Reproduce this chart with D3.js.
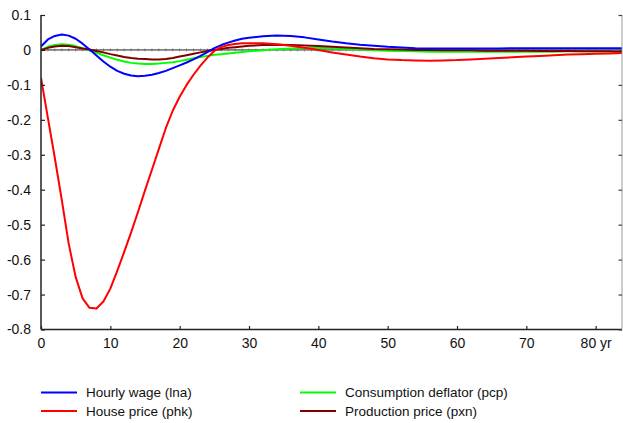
<!DOCTYPE html>
<html><head><meta charset="utf-8">
<script src="https://cdn.jsdelivr.net/npm/d3@7"></script>
<style>body{margin:0;background:#fff}svg{display:block}text{font-family:"Liberation Sans",Arial,sans-serif}</style>
</head><body><svg id="c" width="623" height="423"></svg>
<script>
const t = [0,1,2,3,4,5,6,7,8,9,10,11,12,13,14,15,16,17,18,19,20,21,22,23,24,25,26,27,28,29,30,
  32,34,36,38,40,42,44,46,48,50,52,54,56,58,60,62,64,66,68,70,72,74,76,78,80,82,84];
const lna = [0.010,0.030,0.040,0.044,0.041,0.032,0.018,0.001,-0.016,-0.033,-0.048,-0.060,-0.068,-0.073,-0.075,-0.074,-0.071,-0.066,-0.060,-0.052,-0.044,-0.036,-0.027,-0.017,-0.006,0.005,0.014,0.021,0.027,0.032,0.035,
  0.039,0.041,0.040,0.036,0.030,0.024,0.019,0.015,0.012,0.009,0.007,0.005,0.004,0.004,0.004,0.004,0.004,0.004,0.005,0.005,0.005,0.005,0.005,0.005,0.005,0.005,0.005];
const phk = [-0.080,-0.195,-0.310,-0.430,-0.555,-0.650,-0.711,-0.738,-0.740,-0.720,-0.683,-0.632,-0.578,-0.522,-0.463,-0.402,-0.343,-0.283,-0.224,-0.174,-0.134,-0.100,-0.071,-0.045,-0.022,-0.003,0.008,0.014,0.017,0.019,0.019,
  0.019,0.016,0.012,0.006,0.000,-0.007,-0.013,-0.019,-0.024,-0.027,-0.029,-0.030,-0.031,-0.030,-0.029,-0.027,-0.025,-0.023,-0.021,-0.019,-0.017,-0.015,-0.013,-0.012,-0.011,-0.010,-0.009];
const pcp = [0.000,0.009,0.014,0.016,0.015,0.011,0.005,-0.001,-0.008,-0.015,-0.022,-0.028,-0.033,-0.037,-0.039,-0.040,-0.040,-0.039,-0.037,-0.035,-0.032,-0.028,-0.024,-0.020,-0.017,-0.014,-0.012,-0.010,-0.008,-0.006,-0.004,
  -0.001,0.002,0.004,0.005,0.006,0.005,0.003,0.001,-0.001,-0.002,-0.003,-0.004,-0.005,-0.005,-0.005,-0.005,-0.005,-0.005,-0.005,-0.005,-0.005,-0.005,-0.004,-0.004,-0.004,-0.004,-0.004];
const pxn = [0.000,0.006,0.010,0.012,0.011,0.008,0.004,0.001,-0.003,-0.007,-0.012,-0.016,-0.020,-0.023,-0.025,-0.026,-0.027,-0.027,-0.026,-0.023,-0.019,-0.015,-0.011,-0.007,-0.003,0.000,0.003,0.006,0.008,0.010,0.012,
  0.014,0.015,0.014,0.013,0.011,0.009,0.007,0.005,0.003,0.002,0.001,0.000,0.000,-0.001,-0.001,-0.001,-0.002,-0.002,-0.002,-0.002,-0.003,-0.003,-0.003,-0.004,-0.004,-0.004,-0.005];
const seriesNames = ["Hourly wage (lna)","House price (phk)","Consumption deflator (pcp)","Production price (pxn)"];
const seriesColors = ["#0000ff","#ff0000","#00ff00","#800000"];
const yTicks = [0.1,0,-0.1,-0.2,-0.3,-0.4,-0.5,-0.6,-0.7,-0.8];
const xTicks = [0,10,20,30,40,50,60,70,80];
const xTickLabels = ["0","10","20","30","40","50","60","70","80 yr"];

const svg = d3.select("#c");
const x = d3.scaleLinear().domain([0,83.8]).range([41,622]);
const y = d3.scaleLinear().domain([-0.8,0.1]).range([329.5,15]);

svg.append("clipPath").attr("id","clip").append("rect")
  .attr("x",41).attr("y",0).attr("width",581).attr("height",330);

// zero line with tiny ticks
const zg = svg.append("g").attr("clip-path","url(#clip)");
zg.append("line").attr("x1",x(0)).attr("x2",x(83.8)).attr("y1",y(0)).attr("y2",y(0))
  .attr("stroke","#222").attr("stroke-width",1);
zg.selectAll(".zt").data(d3.range(1,84)).join("line")
  .attr("x1",d=>x(d)).attr("x2",d=>x(d)).attr("y1",y(0)-1.5).attr("y2",y(0)+1.5)
  .attr("stroke","#555").attr("stroke-width",0.6);

// series
const all = [lna,phk,pcp,pxn];
const line = d3.line().x((d,i)=>x(t[i])).y(d=>y(d));
const lg = svg.append("g").attr("clip-path","url(#clip)");
[2,3,0,1].forEach(k=>{
  lg.append("path").attr("d",line(all[k])).attr("fill","none")
    .attr("stroke",seriesColors[k]).attr("stroke-width",2).attr("stroke-linejoin","round");
});

// axes
const yAx = d3.axisLeft(y).tickValues(yTicks).tickSize(-4).tickPadding(10)
  .tickFormat(d=> d===0 ? "0" : d3.format(".1f")(d).replace("−","-"));
const gy = svg.append("g").attr("transform","translate(41,0)").call(yAx);
gy.select(".domain").attr("stroke","#222").attr("stroke-width",1.5).attr("d","M0,15V329.5");
gy.selectAll(".tick line").attr("stroke","#222").attr("stroke-width",1.2);
gy.selectAll("text").attr("font-size",14).attr("fill","#111");

const xAx = d3.axisBottom(x).tickValues(xTicks).tickSize(-3.5).tickPadding(9)
  .tickFormat((d,i)=>xTickLabels[i]);
const gx = svg.append("g").attr("transform","translate(0,329.5)").call(xAx);
gx.select(".domain").attr("stroke","#222").attr("stroke-width",1.5).attr("d","M41,0H622");
gx.selectAll(".tick line").attr("stroke","#222").attr("stroke-width",1.2);
gx.selectAll("text").attr("font-size",14).attr("fill","#111");

// right axis
const gr = svg.append("g").attr("transform","translate(622,0)")
  .call(d3.axisRight(y).tickValues(yTicks).tickSize(-3.5).tickFormat(""));
gr.select(".domain").attr("stroke","#999").attr("stroke-width",1).attr("d","M0,15V329.5");
gr.selectAll(".tick line").attr("stroke","#444").attr("stroke-width",1.2);

// legend
const legPos = [[41,392.5],[41,411],[300,392.5],[300,411]];
seriesNames.forEach((n,k)=>{
  const [lx,ly] = legPos[k];
  svg.append("line").attr("x1",lx).attr("x2",lx+36).attr("y1",ly).attr("y2",ly)
    .attr("stroke",seriesColors[k]).attr("stroke-width",2);
  svg.append("text").attr("x",lx+45).attr("y",ly+4.5).attr("font-size",13.5).attr("fill","#111").text(n);
});
</script></body></html>
